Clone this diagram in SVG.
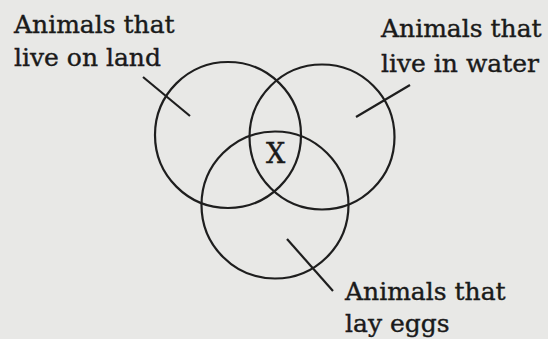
<svg xmlns="http://www.w3.org/2000/svg" width="548" height="339" viewBox="0 0 548 339">
<style>
.c{fill:none;stroke:#1e1e1e;stroke-width:2.2}
.l{stroke:#1e1e1e;stroke-width:2.2;fill:none}
.t{font-family:"DejaVu Serif","Liberation Serif",serif;font-size:25px;fill:#1a1a1a;stroke:#1a1a1a;stroke-width:0.4}
</style>
<rect width="548" height="339" fill="#e8e8e6"/>
<g id="land">
<circle class="c" cx="228" cy="135" r="73"/>
<text class="t" x="14" y="33">Animals that</text>
<text class="t" x="14" y="66">live on land</text>
</g>
<g id="water">
<circle class="c" cx="322" cy="137" r="72.5"/>
<text class="t" x="381" y="37">Animals that</text>
<text class="t" x="381" y="72">live in water</text>
</g>
<g id="eggs">
<circle class="c" cx="275" cy="205" r="73.5"/>
<text class="t" x="345" y="300">Animals that</text>
<text class="t" x="345" y="332">lay eggs</text>
</g>
<g id="x">
<text class="t" x="275.5" y="163" text-anchor="middle" style="font-size:27px">X</text>
</g>
<g id="connectors">
<line class="l" x1="143" y1="77" x2="190" y2="116"/>
<line class="l" x1="410" y1="85" x2="356" y2="117"/>
<line class="l" x1="287" y1="239" x2="333" y2="291"/>
</g>
</svg>
